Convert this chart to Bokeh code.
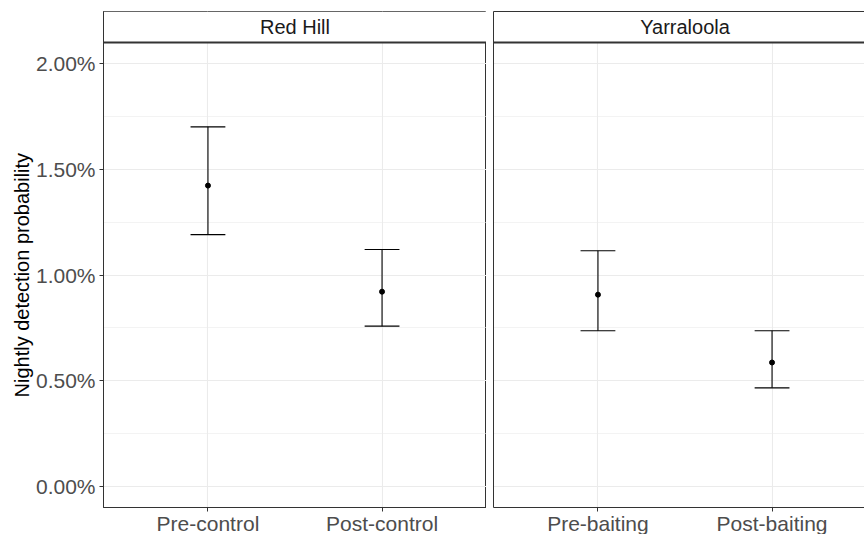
from bokeh.plotting import figure
from bokeh.layouts import row
from bokeh.models import (ColumnDataSource, FixedTicker, Range1d, NumeralTickFormatter,
                          LinearAxis, Title)
from bokeh.core.properties import value
from bokeh.embed import file_html
from bokeh.resources import INLINE

# ---- data -------------------------------------------------------------
sites = ["Red Hill", "Yarraloola"]
site = ["Red Hill", "Red Hill", "Yarraloola", "Yarraloola"]
period = ["Pre-control", "Post-control", "Pre-baiting", "Post-baiting"]
estimate = [0.01423, 0.00921, 0.00907, 0.00586]
lower = [0.01191, 0.00758, 0.00736, 0.00466]
upper = [0.01701, 0.01121, 0.01115, 0.00736]

y_ticks = [0.0, 0.005, 0.010, 0.015, 0.020]
y_minor = [0.0025, 0.0075, 0.0125, 0.0175]
y_label = "Nightly detection probability"

# ---- styling ----------------------------------------------------------
FONT = "Liberation Sans"
BORDER = "#333333"
GRID = "#EBEBEB"
TICK_TEXT = "#4D4D4D"
TICK_SIZE = "21px"

Y_LO, Y_HI = -0.001, 0.021          # panel limits (0..2% plus padding)
PANEL_PX = 465                       # panel height in px
STRIP_PX = 31                        # facet strip height in px
X_LO, X_SPAN = 0.4, 2.2              # discrete axis: 2 levels, 0.6 padding
FRAME_W = 383
ERR_HALF = 0.1                       # half width of error-bar caps

strip_top = Y_HI + STRIP_PX * (Y_HI - Y_LO) / PANEL_PX


def facet(name, frame_w, border_left, first):
    idx = [i for i, s in enumerate(site) if s == name]
    labels = [period[i] for i in idx]
    xs = [k + 1 for k in range(len(idx))]
    src = ColumnDataSource(dict(
        x=xs,
        est=[estimate[i] for i in idx],
        lo=[lower[i] for i in idx],
        hi=[upper[i] for i in idx],
        xl=[x - ERR_HALF for x in xs],
        xr=[x + ERR_HALF for x in xs],
    ))

    x_end = X_LO + X_SPAN * frame_w / FRAME_W
    p = figure(frame_width=frame_w, frame_height=PANEL_PX + STRIP_PX,
               x_range=Range1d(X_LO, x_end), y_range=Range1d(Y_LO, strip_top),
               min_border_left=border_left, min_border_right=0,
               min_border_top=11, min_border_bottom=27,
               toolbar_location=None, output_backend="svg",
               background_fill_color="white", border_fill_color="white")

    # grid
    p.xgrid.ticker = FixedTicker(ticks=xs)
    p.xgrid.grid_line_color = GRID
    p.xgrid.grid_line_width = 1.1
    p.ygrid.ticker = FixedTicker(ticks=y_ticks, minor_ticks=y_minor)
    p.ygrid.grid_line_color = GRID
    p.ygrid.grid_line_width = 1.1
    p.ygrid.minor_grid_line_color = GRID
    p.ygrid.minor_grid_line_width = 0.6

    # x axis
    xa = p.xaxis[0]
    xa.ticker = FixedTicker(ticks=xs)
    xa.major_label_overrides = {x: lab for x, lab in zip(xs, labels)}
    xa.major_tick_out = 4
    xa.major_tick_in = 0
    xa.minor_tick_line_color = None
    xa.major_tick_line_color = BORDER
    xa.axis_line_color = BORDER
    xa.major_label_standoff = 0
    xa.major_label_text_font = FONT
    xa.major_label_text_font_size = TICK_SIZE
    xa.major_label_text_color = TICK_TEXT

    ya = p.yaxis[0]
    ya.axis_line_color = BORDER
    ya.minor_tick_line_color = None
    if first:
        ya.ticker = FixedTicker(ticks=y_ticks)
        ya.formatter = NumeralTickFormatter(format="0.00%")
        ya.major_tick_out = 4
        ya.major_tick_in = 0
        ya.major_tick_line_color = BORDER
        ya.major_label_standoff = 4
        ya.major_label_text_font = FONT
        ya.major_label_text_font_size = TICK_SIZE
        ya.major_label_text_color = TICK_TEXT
        p.outline_line_color = BORDER
        p.outline_line_width = 1
        # axis title centred on the panel (below the strip), not the whole frame
        p.add_layout(Title(text=y_label, align="left", offset=110,
                           text_font=FONT, text_font_size="20px",
                           text_font_style="normal", text_color="black",
                           standoff=0), "left")
    else:
        ya.ticker = FixedTicker(ticks=[])
        ya.major_tick_line_color = None
        ya.major_label_standoff = 0
        p.outline_line_color = None
        top = LinearAxis(ticker=FixedTicker(ticks=[]), axis_line_color=BORDER,
                         major_tick_line_color=None, minor_tick_line_color=None,
                         major_label_standoff=0)
        p.add_layout(top, "above")

    # error bars and point estimates
    p.segment(x0="x", y0="lo", x1="x", y1="hi", source=src,
              line_color="black", line_width=1.1)
    p.segment(x0="xl", y0="hi", x1="xr", y1="hi", source=src,
              line_color="black", line_width=1.1)
    p.segment(x0="xl", y0="lo", x1="xr", y1="lo", source=src,
              line_color="black", line_width=1.1)
    p.scatter(x="x", y="est", source=src, size=5, color="black")

    # facet strip
    p.hstrip(y0=[Y_HI], y1=[strip_top], fill_color="white", line_color=None)
    p.hspan(y=[Y_HI], line_color=BORDER, line_width=2)
    p.text(x=[(xs[0] + xs[-1]) / 2], y=[(Y_HI + strip_top) / 2], text=[name],
           text_font=value(FONT), text_font_size="20px", text_align="center",
           text_baseline="middle", text_color="#1A1A1A")
    return p


left = facet(sites[0], FRAME_W, 103, True)
right = facet(sites[1], 371, 7, False)

layout = row(left, right, spacing=0)
open("out.html", "w").write(file_html(layout, INLINE))
